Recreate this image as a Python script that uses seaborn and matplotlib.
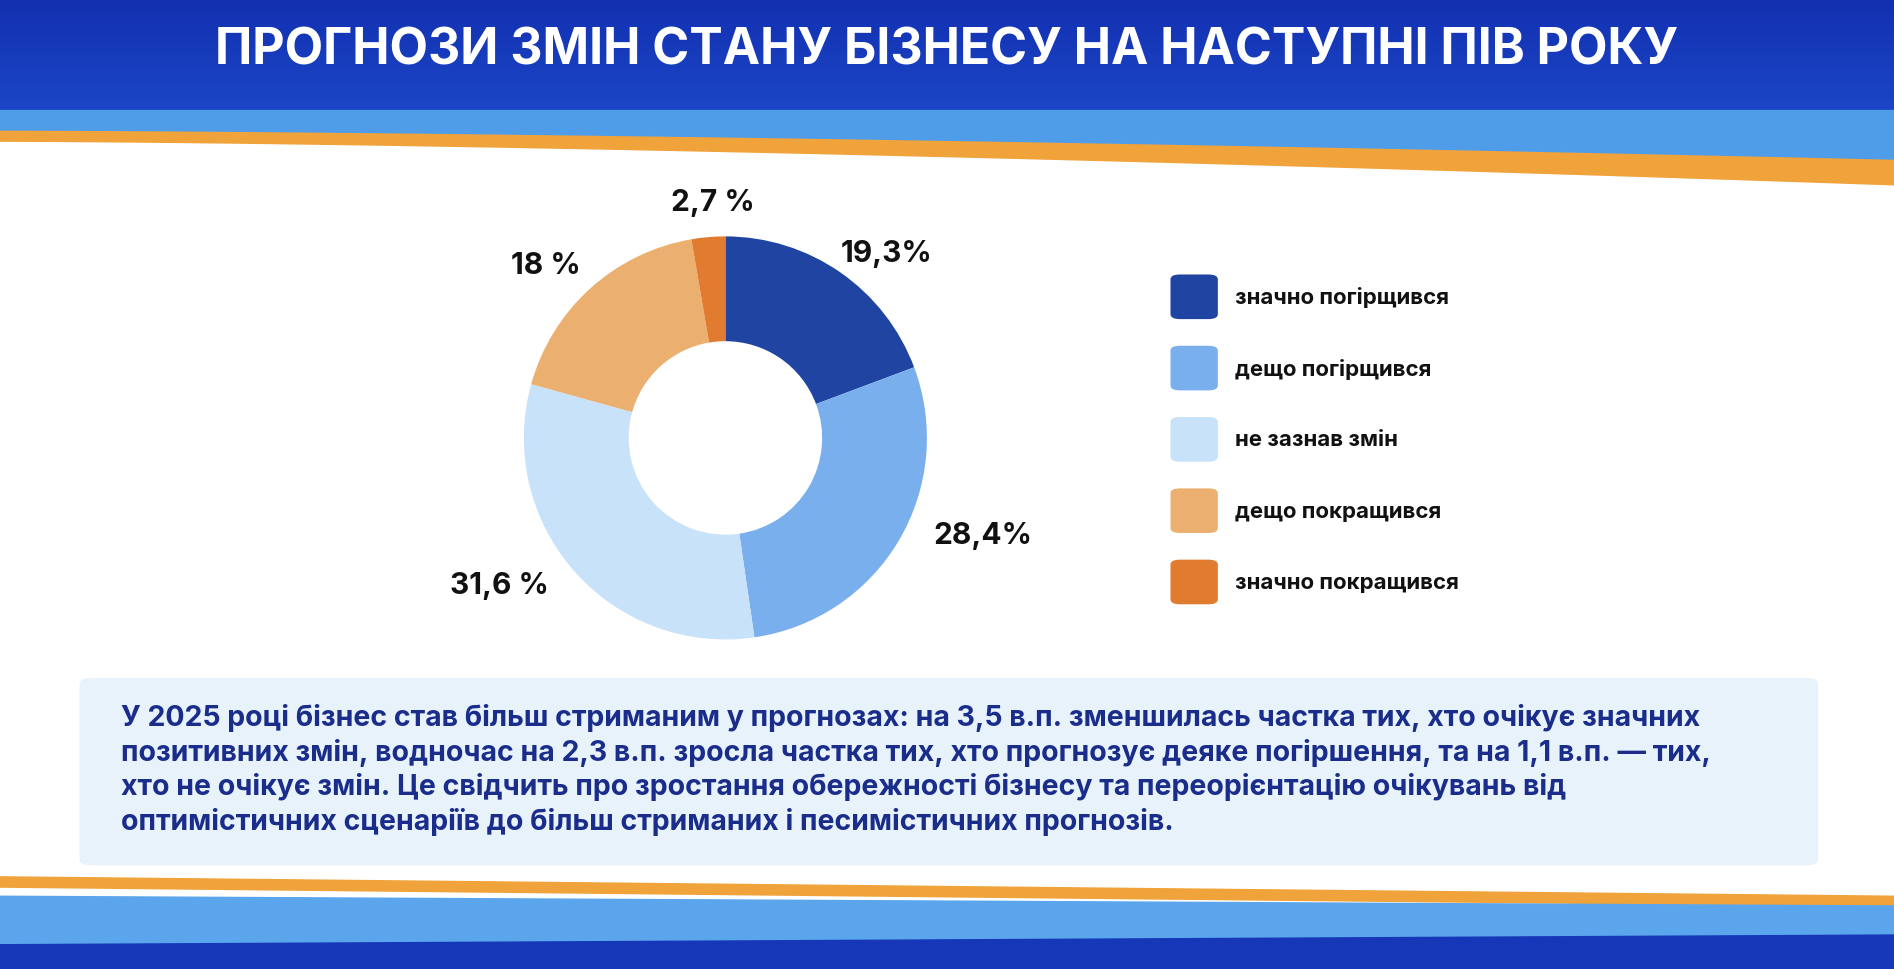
import numpy as np
import seaborn as sns
import matplotlib.pyplot as plt
from matplotlib.patches import FancyBboxPatch
from matplotlib.colors import LinearSegmentedColormap

categories = ['значно погірщився', 'дещо погірщився', 'не зазнав змін', 'дещо покращився', 'значно покращився']
shares = [19.3, 28.4, 31.6, 18.0, 2.7]
share_labels = ['19,3%', '28,4%', '31,6 %', '18 %', '2,7 %']
colors = ['#1f44a2', '#7aafee', '#c8e2f9', '#ebb06f', '#e07b2f']
title = 'ПРОГНОЗИ ЗМІН СТАНУ БІЗНЕСУ НА НАСТУПНІ ПІВ РОКУ'
note = ('У 2025 році бізнес став більш стриманим у прогнозах: на 3,5 в.п. зменшилась частка тих, хто очікує значних\n'
        'позитивних змін, водночас на 2,3 в.п. зросла частка тих, хто прогнозує деяке погіршення, та на 1,1 в.п. — тих,\n'
        'хто не очікує змін. Це свідчить про зростання обережності бізнесу та переорієнтацію очікувань від\n'
        'оптимістичних сценаріїв до більш стриманих і песимістичних прогнозів.')

sns.set_style('white')
plt.rcParams['font.family'] = ['Inter', 'DejaVu Sans']

fig = plt.figure(figsize=(18.94, 9.70), dpi=100)
fig.patch.set_facecolor('white')

# background decoration in figure fractions (y from top)
bg = fig.add_axes([0, 0, 1, 1])
bg.set_xlim(0, 1)
bg.set_ylim(1, 0)
bg.axis('off')
x = np.linspace(0, 1, 300)
grad = np.linspace(0, 1, 100)[:, None]
bg.imshow(grad, extent=[0, 1, 0.16, 0], cmap=LinearSegmentedColormap.from_list('h', ['#1230b0', '#1f4fd0']),
          aspect='auto', zorder=0)
orange_top = 0.14 + 0.045 * x ** 1.5
blue_top = 0.135 + 0.03 * x ** 1.5
bg.fill_between(x, 0.12, orange_top + 0.008, color='#f0a33a', zorder=1)
bg.fill_between(x, 0.115, blue_top, color='#4f9de8', zorder=2)
bg.fill_between(x, orange_top + 0.008, 0.3, color='white', zorder=1)
# bottom waves
b_orange = 0.905 + 0.02 * x
b_blue = 0.925 + 0.01 * x
bg.fill_between(x, b_orange, 1.0, color='#f0a33a', zorder=1)
bg.fill_between(x, b_orange + 0.012, 1.0, color='white', zorder=2)
bg.fill_between(x, b_blue, 1.0, color='#5aa5ec', zorder=3)
bg.fill_between(x, 0.975 - 0.01 * x, 1.0, color='#1638b8', zorder=4)
bg.text(0.5, 0.053, title, color='white', fontsize=36, fontweight='bold', ha='center', va='center', zorder=5)

# note box
box = FancyBboxPatch((0.042, 0.70), 0.918, 0.193, boxstyle='round,pad=0,rounding_size=0.006',
                     facecolor='#e7f2fb', edgecolor='none', zorder=5)
bg.add_patch(box)
bg.text(0.064, 0.794, note, color='#1a2d8a', fontsize=20.5, fontweight='bold', ha='left', va='center',
        linespacing=1.3, zorder=6)

# donut
ax = fig.add_axes([0.25, 0.286, 0.266, 0.523])
wedges, _ = ax.pie(shares, colors=colors, startangle=90, counterclock=False,
                   wedgeprops=dict(width=0.52, edgecolor='none'))
ax.set_aspect('equal')
label_pos = [(0.8, 0.92), (1.28, -0.48), (-1.12, -0.73), (-0.89, 0.86), (-0.06, 1.17)]
for (lx, ly), lab in zip(label_pos, share_labels):
    ax.text(lx, ly, lab, fontsize=21.5, fontweight='bold', ha='center', va='center', color='#111111')

# legend
for i, (cat, col) in enumerate(zip(categories, colors)):
    yy = 0.307 + i * 0.0735
    bg.add_patch(FancyBboxPatch((0.618, yy - 0.023), 0.025, 0.046,
                                boxstyle='round,pad=0,rounding_size=0.005', facecolor=col, edgecolor='none'))
    bg.text(0.652, yy, cat, fontsize=16, fontweight='bold', ha='left', va='center', color='#111111')

fig.savefig('out.png', dpi=100)
